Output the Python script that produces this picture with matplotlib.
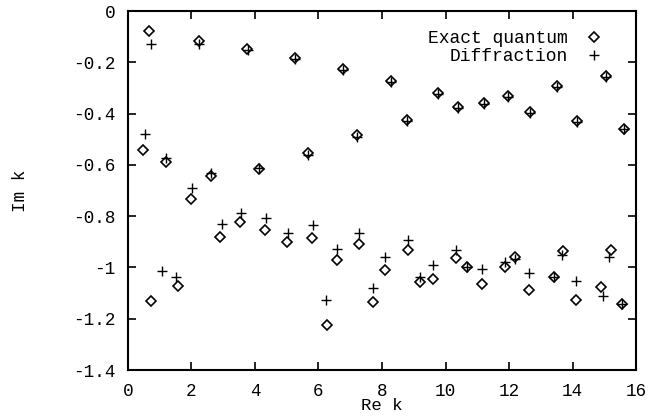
"""Resonance positions: exact quantum vs diffraction approximation."""

import matplotlib
matplotlib.use("Agg")
import matplotlib.pyplot as plt

# Exact quantum resonances (diamonds)
exact_re = [0.66, 2.23, 3.75, 5.26, 6.78, 8.28, 9.75, 11.22, 11.96, 12.67, 13.51, 14.15, 15.06, 15.62,
            0.47, 1.19, 2.63, 4.12, 5.68, 7.22, 8.78, 10.38,
            0.74, 1.56, 2.00, 2.90, 3.52, 4.33, 5.02, 5.80, 6.26, 6.57, 7.29, 7.71, 8.10, 8.81,
            9.21, 9.62, 10.34, 10.67, 11.15, 11.86, 12.18, 12.64, 13.41, 13.69, 14.11, 14.91,
            15.22, 15.56]
exact_im = [-0.078, -0.118, -0.147, -0.182, -0.226, -0.273, -0.319, -0.358, -0.333, -0.395, -0.294,
            -0.428, -0.255, -0.459,
            -0.542, -0.588, -0.645, -0.617, -0.553, -0.485, -0.424, -0.373,
            -1.130, -1.074, -0.732, -0.880, -0.822, -0.855, -0.901, -0.887, -1.226, -0.972, -0.910,
            -1.133, -1.011, -0.933, -1.057, -1.046, -0.962, -0.998, -1.066, -0.998, -0.958, -1.089,
            -1.036, -0.936, -1.128, -1.075, -0.932, -1.141]

# Diffraction approximation (plus signs)
diff_re = [0.72, 2.25, 3.77, 5.26, 6.78, 8.28, 9.75, 11.22, 11.96, 12.67, 13.51, 14.15, 15.06, 15.62,
           0.55, 1.19, 2.63, 4.12, 5.68, 7.22, 8.78, 10.38,
           1.06, 1.50, 2.03, 2.95, 3.55, 4.34, 5.05, 5.82, 6.24, 6.59, 7.29, 7.71, 8.10, 8.81,
           9.19, 9.62, 10.34, 10.67, 11.15, 11.86, 12.18, 12.64, 13.41, 13.67, 14.12, 14.96,
           15.16, 15.56]
diff_im = [-0.127, -0.130, -0.153, -0.187, -0.230, -0.277, -0.322, -0.362, -0.337, -0.398, -0.297,
           -0.432, -0.258, -0.462,
           -0.478, -0.573, -0.633, -0.614, -0.560, -0.492, -0.430, -0.378,
           -1.015, -1.037, -0.689, -0.832, -0.786, -0.809, -0.864, -0.836, -1.128, -0.927, -0.864,
           -1.081, -0.958, -0.894, -1.037, -0.990, -0.933, -0.998, -1.007, -0.977, -0.968, -1.023,
           -1.036, -0.953, -1.053, -1.111, -0.958, -1.141]

x_ticks = [0, 2, 4, 6, 8, 10, 12, 14, 16]
y_ticks = [0, -0.2, -0.4, -0.6, -0.8, -1, -1.2, -1.4]
y_tick_labels = ["0", "-0.2", "-0.4", "-0.6", "-0.8", "-1", "-1.2", "-1.4"]

plt.rcParams["font.family"] = ["Liberation Mono", "DejaVu Sans Mono"]
plt.rcParams["axes.unicode_minus"] = False


def main():
    fig = plt.figure(figsize=(6.48, 4.17), dpi=100)
    ax = fig.add_axes([0.1975, 0.1127, 0.7840, 0.8609])

    ax.plot(exact_re, exact_im, linestyle="none", marker="D", markersize=4.6,
            markerfacecolor="none", markeredgecolor="black", markeredgewidth=1.2,
            label="Exact quantum")
    ax.plot(diff_re, diff_im, linestyle="none", marker="+", markersize=7,
            color="black", markeredgewidth=1.0, label="Diffraction")

    ax.set_xlim(0, 16)
    ax.set_ylim(-1.4, 0)
    ax.set_xticks(x_ticks)
    ax.set_yticks(y_ticks)
    ax.set_yticklabels(y_tick_labels)
    ax.tick_params(direction="in", length=6, width=1.2, top=True, right=True,
                   labelsize=12.7, pad=9)
    for s in ax.spines.values():
        s.set_linewidth(1.5)

    ax.set_xlabel("Re k", fontsize=12.5, labelpad=-1)
    ax.set_ylabel("Im k", fontsize=12.7, labelpad=32)

    ax.legend(loc="upper right", frameon=False, markerfirst=False, fontsize=13,
              handlelength=1.0, handletextpad=0.95, labelspacing=0.05,
              borderaxespad=0.0, bbox_to_anchor=(0.949, 0.967))

    fig.savefig("out.png", dpi=100)
    plt.close(fig)


if __name__ == "__main__":
    main()
